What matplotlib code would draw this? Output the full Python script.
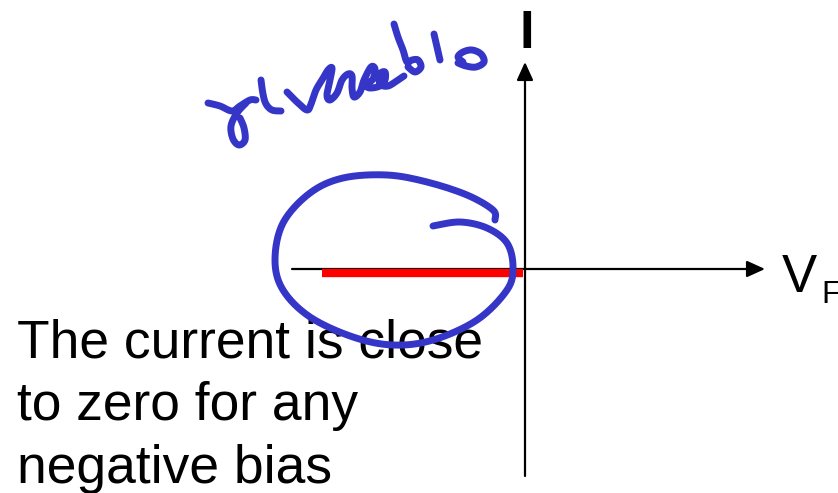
#!/usr/bin/env python3
import numpy as np
import matplotlib
matplotlib.use('Agg')
import matplotlib.pyplot as plt

plt.rcParams['font.family'] = ['Liberation Sans', 'DejaVu Sans']

# diagram units: origin where the V and I axes cross, I pointing up
v_axis = [-233, 240]
i_axis = [-207, 207]

# reverse-bias current: practically zero for every negative V
reverse_v = [-203, -2]
reverse_i = [-4, -4]

caption = ['The current is close', 'to zero for any', 'negative bias']

# pen annotations (ellipse around the reverse branch + "reverse bias")
ink_loop = [(-30, 49), (-32, 59), (-58, 74), (-98, 87), (-138, 94), (-182, 91),
            (-215, 76), (-242, 46), (-250, 9), (-242, -21), (-215, -48),
            (-172, -68), (-132, -76), (-92, -71), (-48, -51), (-18, -21),
            (-12, 2), (-18, 26), (-38, 41), (-65, 47), (-92, 43)]
ink_words = [
    [(-317, 166), (-305, 163), (-293, 158), (-285, 163), (-275, 169), (-269, 169)],
    [(-279, 166), (-288, 156), (-294, 143), (-292, 130), (-286, 124), (-280, 129),
     (-281, 141), (-285, 151)],
    [(-264, 189), (-262, 175), (-259, 165), (-253, 159), (-244, 158)],
    [(-238, 177), (-228, 167), (-218, 159), (-214, 165), (-209, 179), (-203, 189),
     (-197, 199), (-193, 201), (-195, 189), (-198, 174), (-195, 169), (-188, 176),
     (-183, 189), (-177, 195), (-173, 193), (-173, 181), (-171, 172), (-165, 177),
     (-161, 189), (-154, 202), (-150, 200), (-152, 190), (-159, 184), (-155, 181),
     (-145, 183), (-140, 189), (-140, 197), (-145, 195), (-145, 185), (-137, 183),
     (-127, 189), (-121, 193)],
    [(-131, 245), (-127, 232), (-122, 219), (-118, 207), (-113, 209), (-107, 209),
     (-104, 202), (-110, 197), (-117, 202)],
    [(-91, 235), (-88, 222), (-85, 209)],
    [(-62, 207), (-67, 212), (-62, 217), (-53, 219), (-44, 215), (-41, 207),
     (-49, 202), (-59, 203), (-67, 206)],
]
ink = '#3535c8'


def smooth(pts, n=8):
    # catmull-rom so the pen strokes don't look like polygons
    p = np.asarray(pts, dtype=float)
    if len(p) < 3:
        return p[:, 0], p[:, 1]
    p = np.vstack([p[0], p, p[-1]])
    out = []
    t = np.linspace(0, 1, n, endpoint=False)[:, None]
    for k in range(1, len(p) - 2):
        p0, p1, p2, p3 = p[k - 1], p[k], p[k + 1], p[k + 2]
        out.append(0.5 * ((2 * p1) + (-p0 + p2) * t
                          + (2 * p0 - 5 * p1 + 4 * p2 - p3) * t ** 2
                          + (-p0 + 3 * p1 - 3 * p2 + p3) * t ** 3))
    out.append(p[-2][None, :])
    out = np.vstack(out)
    return out[:, 0], out[:, 1]


fig = plt.figure(figsize=(8.38, 4.93), dpi=100)
ax = fig.add_axes([0, 0, 1, 1])
ax.set_xlim(-525, 313)
ax.set_ylim(-224, 269)
ax.axis('off')

arrow = dict(arrowstyle='-|>,head_length=1.1,head_width=0.5', lw=1.6,
             color='black', shrinkA=0, shrinkB=0)
ax.annotate('', xy=(v_axis[1], 0), xytext=(v_axis[0], 0), arrowprops=arrow)
ax.annotate('', xy=(0, i_axis[1]), xytext=(0, i_axis[0]), arrowprops=arrow)

ax.plot(reverse_v, reverse_i, color='#ff0000', lw=6, solid_capstyle='butt', zorder=3)

ax.text(2, 221, 'I', fontsize=38, fontweight='bold', ha='center', va='baseline')
ax.text(257, -23, 'V', fontsize=38, ha='left', va='baseline')
ax.text(296, -34, 'F', fontsize=23, ha='left', va='baseline')

for k, line in enumerate(caption):
    ax.text(-508, -88 - 63 * k, line, fontsize=38.4, ha='left', va='baseline')

x, y = smooth(ink_loop)
ax.plot(x, y, color=ink, lw=5, solid_capstyle='round', solid_joinstyle='round', zorder=5)
for stroke in ink_words:
    x, y = smooth(stroke)
    ax.plot(x, y, color=ink, lw=5, solid_capstyle='round', solid_joinstyle='round', zorder=5)

fig.savefig('out.png', dpi=100)
